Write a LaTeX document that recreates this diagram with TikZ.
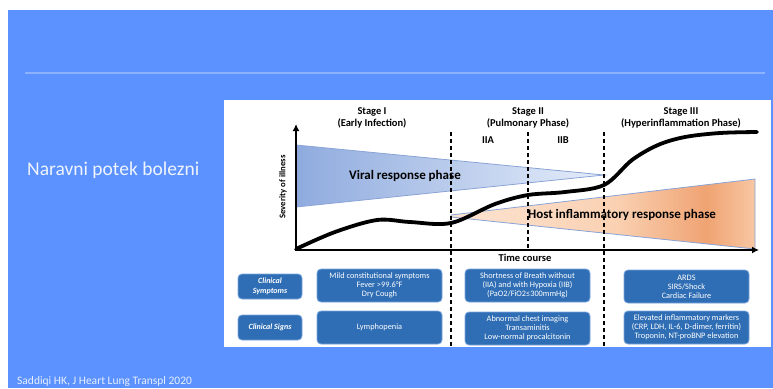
\documentclass[tikz,border=0pt]{standalone}
\usepackage{fontspec}
\setmainfont{Carlito}
\usetikzlibrary{arrows.meta}
\definecolor{slide}{HTML}{5B92FF}
\definecolor{rulecol}{HTML}{8CB2FF}
\definecolor{boxblue}{HTML}{2F6EB4}
\definecolor{boxedge}{HTML}{7BA5DC}
\definecolor{edgeblue}{HTML}{8AA3D6}
\pgfdeclarehorizontalshading{viralshade}{100bp}{rgb(0bp)=(0.56,0.67,0.87); rgb(25bp)=(0.56,0.67,0.87); rgb(75bp)=(0.90,0.93,0.98); rgb(100bp)=(0.90,0.93,0.98)}
\pgfdeclarehorizontalshading{hostshade}{100bp}{rgb(0bp)=(0.99,0.89,0.82); rgb(25bp)=(0.99,0.89,0.82); rgb(52bp)=(0.98,0.82,0.70); rgb(67bp)=(0.94,0.64,0.45); rgb(75bp)=(0.97,0.78,0.64); rgb(100bp)=(0.97,0.78,0.64)}
\begin{document}
\begin{tikzpicture}[x=1bp,y=-1bp,
		stagetext/.style={font=\fontsize{10.5bp}{12bp}\selectfont\bfseries,align=center,inner sep=0},
		phasetext/.style={font=\fontsize{13bp}{15bp}\selectfont\bfseries,inner sep=0},
		infobox/.style={draw=boxedge,line width=0.8bp,fill=boxblue,rounded corners=4bp,text=white,align=center,minimum width=125bp,minimum height=33bp,inner sep=1bp,font=\fontsize{8.3bp}{9bp}\selectfont},
		labelbox/.style={infobox,minimum width=64bp,minimum height=25bp,font=\fontsize{8bp}{9.5bp}\selectfont\bfseries\itshape},
		stageline/.style={line width=1.3bp,dash pattern=on 4bp off 3bp}]
	\useasboundingbox (0,0) rectangle (773,388);
	\clip (0,0) rectangle (773,388);
	% slide and panel
	\fill[white] (0,0) rectangle (773,388);
	\fill[slide] (8,10) rectangle (773,388);
	\draw[rulecol,line width=1.5bp] (25,73) -- (765,73);
	\fill[white] (224,100) rectangle (771,347);
	\node[font=\fontsize{19.5bp}{22bp}\selectfont,text=white!90!slide,anchor=west,inner sep=0] (title) at (27,170) {Naravni potek bolezni};
	\node[font=\fontsize{11.5bp}{13bp}\selectfont,text=white!85!slide,anchor=base west,inner sep=0] (source) at (17,384.5) {Saddiqi HK, J Heart Lung Transpl 2020};
	% phases
	\shadedraw[shading=viralshade,draw=edgeblue,line width=0.8bp] (296,145) -- (604,175) -- (296,207) -- cycle;
	\shadedraw[shading=hostshade,draw=edgeblue,line width=0.8bp] (451,215) -- (755,179) -- (755,249) -- (451,217) -- cycle;
	\node[phasetext] (viral) at (405,176) {Viral response phase};
	\node[phasetext] (host) at (622,215) {Host inflammatory response phase};
	\foreach \x/\y in {451/347,528/250,604/347}
		\draw[stageline] (\x,132) -- (\x,\y);
	% axes and course
	\coordinate (origin) at (296,250);
	\coordinate (ytop) at (296,124);
	\coordinate (xend) at (759,250);
	\draw[line width=2.5bp,{Latex[length=7bp,width=7bp]}-{Latex[length=7bp,width=7bp]}] (ytop) -- (origin) -- (xend);
	\draw[line width=3.8bp,line cap=round] plot[smooth,tension=0.55] coordinates {(296,249) (335,232) (377,220) (410,222) (451,223) (495,204) (528,195) (565,192) (604,185) (632,160) (658,145) (685,137) (720,133) (757,132)};
	\node[stagetext] (stage1) at (372,118) {Stage I\\(Early Infection)};
	\node[stagetext] (stage2) at (528,118) {Stage II\\(Pulmonary Phase)};
	\node[stagetext] (stage3) at (681,118) {Stage III\\(Hyperinflammation Phase)};
	\node[stagetext] (iia) at (488,140) {IIA};
	\node[stagetext] (iib) at (563,140) {IIB};
	\node[font=\fontsize{8.7bp}{9bp}\selectfont\bfseries,rotate=90,inner sep=0] (severity) at (283,187) {Severity of illness};
	\node[stagetext] (time) at (525,258) {Time course};
	% clinical rows
	\node[labelbox] (symlab) at (270,286.5) {Clinical\\Symptoms};
	\node[labelbox] (siglab) at (270,327.5) {Clinical Signs};
	\node[infobox] (sym1) at (379.5,285.5) {Mild constitutional symptoms\\Fever >99.6°F\\Dry Cough};
	\node[infobox] (sym2) at (527.5,285.5) {Shortness of Breath without\\(IIA) and with Hypoxia (IIB)\\(PaO2/FiO2≤300mmHg)};
	\node[infobox] (sym3) at (686.5,286.5) {ARDS\\SIRS/Shock\\Cardiac Failure};
	\node[infobox] (sig1) at (379.5,327.5) {Lymphopenia};
	\node[infobox] (sig2) at (527.5,328.5) {Abnormal chest imaging\\Transaminitis\\Low-normal procalcitonin};
	\node[infobox] (sig3) at (686.5,327.5) {Elevated inflammatory markers\\(CRP, LDH, IL-6, D-dimer, ferritin)\\Troponin, NT-proBNP elevation};
\end{tikzpicture}
\end{document}
